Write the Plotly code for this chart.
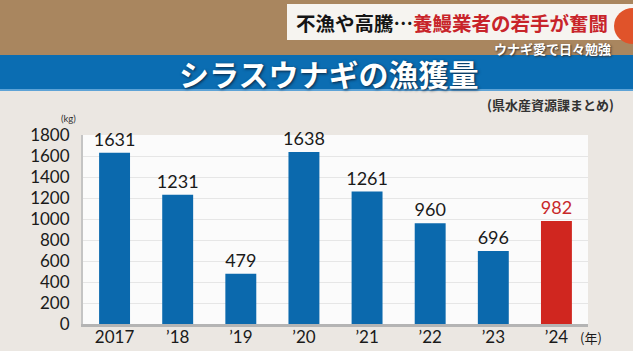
import plotly.graph_objects as go

categories = ["2017", "’18", "’19", "’20", "’21", "’22", "’23", "’24"]
values = [1631, 1231, 479, 1638, 1261, 960, 696, 982]
bar_colors = ["#0b69ad"] * 7 + ["#d0261f"]
label_colors = ["#1a1a1a"] * 7 + ["#c8282a"]
y_ticks = [0, 200, 400, 600, 800, 1000, 1200, 1400, 1600, 1800]

W, H = 633, 351
L, R, T, B = 83, 45, 135, 27
PW, PH = W - L - R, H - T - B

def px(x):
    return (x - L) / PW

def py(y):
    return (H - B - y) / PH

JP = "Noto Sans CJK JP"
NUM = "Lato"

fig = go.Figure()
fig.add_trace(go.Bar(
    x=categories, y=values,
    marker=dict(color=bar_colors, line=dict(width=0)),
    text=[str(v) for v in values],
    textposition="outside",
    constraintext="none",
    textfont=dict(family=NUM, size=18, color=label_colors),
    cliponaxis=False,
    width=0.49,
))

shapes = [
    dict(type="rect", xref="paper", yref="paper", x0=px(0), x1=px(W), y0=py(55), y1=py(0),
         fillcolor="#a9865f", line=dict(width=0), layer="below"),
    dict(type="rect", xref="paper", yref="paper", x0=px(287), x1=px(W), y0=py(40), y1=py(4),
         fillcolor="rgba(250,250,248,0.95)", line=dict(width=0), layer="below"),
    dict(type="circle", xref="paper", yref="paper", x0=px(614), x1=px(652), y0=py(44), y1=py(8),
         fillcolor="#e0532a", line=dict(width=0), layer="above"),
    dict(type="rect", xref="paper", yref="paper", x0=px(0), x1=px(W), y0=py(90), y1=py(55),
         fillcolor="#0b6db2", line=dict(width=0), layer="below"),
    dict(type="rect", xref="paper", yref="paper", x0=px(0), x1=px(W), y0=py(91), y1=py(89),
         fillcolor="#5ea3d6", line=dict(width=0), layer="below"),
]

annotations = [
    dict(text="<b>不漁や高騰…<span style='color:#c8242a'>養鰻業者の若手が奮闘</span></b>",
         xref="paper", yref="paper", x=px(294), y=py(22), xanchor="left", yanchor="middle",
         showarrow=False, font=dict(family=JP, size=19.5, color="#151515")),
    dict(text="<b>ウナギ愛で日々勉強</b>", xref="paper", yref="paper", x=px(613), y=py(49),
         xanchor="right", yanchor="middle", showarrow=False,
         font=dict(family=JP, size=13, color="#ffffff", shadow="1px 1px 2px #333")),
    dict(text="<b>シラスウナギの漁獲量</b>", xref="paper", yref="paper", x=px(328), y=py(73),
         xanchor="center", yanchor="middle", showarrow=False,
         font=dict(family=JP, size=30, color="#ffffff", shadow="1px 1px 3px #0a2540")),
    dict(text="<b>(県水産資源課まとめ)</b>", xref="paper", yref="paper", x=px(616), y=py(104),
         xanchor="right", yanchor="middle", showarrow=False,
         font=dict(family=JP, size=13, color="#333333")),
    dict(text="(kg)", xref="paper", yref="paper", x=px(78), y=py(118.5),
         xanchor="right", yanchor="middle", showarrow=False,
         font=dict(family=NUM, size=9.5, color="#333333")),
    dict(text="(年)", xref="paper", yref="paper", x=px(578), y=py(337),
         xanchor="left", yanchor="middle", showarrow=False,
         font=dict(family=JP, size=13, color="#1a1a1a")),
]

fig.update_layout(
    width=W, height=H,
    margin=dict(l=L, r=R, t=T, b=B, autoexpand=False),
    paper_bgcolor="#ebe7e2",
    plot_bgcolor="#fbfbfb",
    showlegend=False,
    shapes=shapes,
    annotations=annotations,
    bargap=0.51,
    xaxis=dict(
        type="category", showgrid=False, showline=True, linecolor="#b4b4b4", linewidth=3,
        ticks="", tickfont=dict(family=NUM, size=17, color="#1a1a1a"),
        ticklabelstandoff=-4, fixedrange=True, automargin=False,
    ),
    yaxis=dict(
        range=[0, 1800], tickvals=y_ticks, showgrid=True, gridcolor="#e6e6e6", gridwidth=1,
        showline=True, linecolor="#c4c4c4", linewidth=2, zeroline=False,
        ticks="", tickfont=dict(family=NUM, size=17, color="#1a1a1a"),
        ticklabelstandoff=8, fixedrange=True, automargin=False,
    ),
)

fig.write_html("out.html")
